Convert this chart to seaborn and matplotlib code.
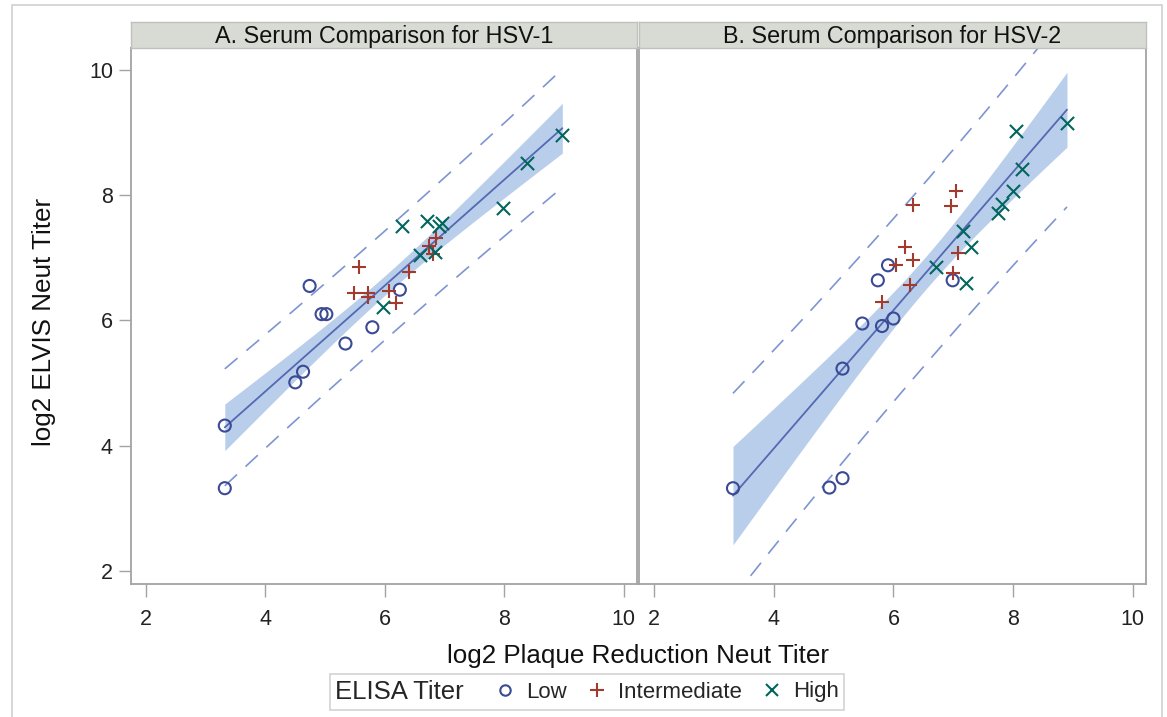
import numpy as np
import pandas as pd
import seaborn as sns
import matplotlib.pyplot as plt
from matplotlib.lines import Line2D
from matplotlib.patches import Rectangle
from matplotlib.offsetbox import HPacker

# values (log2 titers)
hsv1_low_x = [3.32, 3.32, 4.50, 4.63, 4.74, 4.94, 5.02, 5.34, 5.79, 6.25]
hsv1_low_y = [4.32, 3.32, 5.01, 5.18, 6.55, 6.10, 6.10, 5.63, 5.89, 6.49]
hsv1_int_x = [5.48, 5.57, 5.71, 5.72, 6.07, 6.18, 6.41, 6.74, 6.81, 6.85]
hsv1_int_y = [6.44, 6.85, 6.44, 6.37, 6.47, 6.28, 6.77, 7.19, 7.06, 7.32]
hsv1_high_x = [5.97, 6.28, 6.59, 6.71, 6.84, 6.90, 6.96, 7.98, 8.38, 8.97]
hsv1_high_y = [6.21, 7.51, 7.04, 7.59, 7.09, 7.50, 7.56, 7.79, 8.52, 8.96]

hsv2_low_x = [3.32, 4.93, 5.15, 5.15, 5.48, 5.74, 5.81, 5.91, 6.00, 6.99]
hsv2_low_y = [3.32, 3.33, 3.48, 5.23, 5.95, 6.64, 5.91, 6.88, 6.03, 6.64]
hsv2_int_x = [5.81, 6.05, 6.20, 6.27, 6.32, 6.32, 6.97, 7.00, 7.04, 7.08]
hsv2_int_y = [6.29, 6.89, 7.17, 6.57, 6.96, 7.84, 7.82, 6.75, 8.07, 7.08]
hsv2_high_x = [6.72, 7.16, 7.21, 7.29, 7.74, 7.82, 8.00, 8.05, 8.15, 8.90]
hsv2_high_y = [6.85, 7.43, 6.60, 7.17, 7.72, 7.86, 8.07, 9.03, 8.42, 9.16]

groups = ['Low', 'Intermediate', 'High']
panels = ['A. Serum Comparison for HSV-1', 'B. Serum Comparison for HSV-2']
ticks = [2, 4, 6, 8, 10]

rows = []
for panel, data in zip(panels, [
        [(hsv1_low_x, hsv1_low_y), (hsv1_int_x, hsv1_int_y), (hsv1_high_x, hsv1_high_y)],
        [(hsv2_low_x, hsv2_low_y), (hsv2_int_x, hsv2_int_y), (hsv2_high_x, hsv2_high_y)]]):
    for g, (xs, ys) in zip(groups, data):
        for a, b in zip(xs, ys):
            rows.append({'panel': panel, 'group': g, 'prnt': a, 'elvis': b})
df = pd.DataFrame(rows)

colors = {'Low': '#3A4A94', 'Intermediate': '#A23A2E', 'High': '#01665E'}
markers = {'Low': 'o', 'Intermediate': '+', 'High': 'x'}
fit_color = '#5468B4'
band_color = '#B9CEEA'
pred_color = '#7F95D2'
frame_color = '#A3A3A3'
T975 = 2.048  # t quantile, df = 28

sns.set_theme(style='white')
plt.rcParams['font.family'] = ['Liberation Sans', 'DejaVu Sans']

W, H = 1167, 717
fig = plt.figure(figsize=(W / 100, H / 100), dpi=100)

def box(x0, y0, x1, y1):
    return [x0 / W, 1 - y1 / H, (x1 - x0) / W, (y1 - y0) / H]

axes = [fig.add_axes(box(131, 48, 637, 584)), fig.add_axes(box(639, 48, 1146, 584))]

for i, (ax, panel) in enumerate(zip(axes, panels)):
    d = df[df.panel == panel]
    x = d.prnt.to_numpy()
    y = d.elvis.to_numpy()
    n = len(x)
    slope, icpt = np.polyfit(x, y, 1)
    s = np.sqrt(np.sum((y - (icpt + slope * x)) ** 2) / (n - 2))
    sxx = np.sum((x - x.mean()) ** 2)
    xs = np.linspace(x.min(), x.max(), 200)
    yf = icpt + slope * xs
    se_m = s * np.sqrt(1 / n + (xs - x.mean()) ** 2 / sxx)
    se_p = s * np.sqrt(1 + 1 / n + (xs - x.mean()) ** 2 / sxx)

    ax.fill_between(xs, yf - T975 * se_m, yf + T975 * se_m, color=band_color, lw=0, zorder=1)
    sns.lineplot(x=xs, y=yf, ax=ax, color=fit_color, lw=1.3, zorder=2)
    for sign in (-1, 1):
        ax.plot(xs, yf + sign * T975 * se_p, color=pred_color, lw=1.2,
                linestyle=(0, (10, 7)), zorder=2)

    for g in groups:
        dg = d[d.group == g]
        if g == 'Low':
            sns.scatterplot(data=dg, x='prnt', y='elvis', ax=ax, marker='o', s=75,
                            facecolors='none', edgecolors=colors[g], linewidths=1.5, zorder=3)
        else:
            sns.scatterplot(data=dg, x='prnt', y='elvis', ax=ax, marker=markers[g], s=90,
                            color=colors[g], linewidths=1.5, zorder=3)

    ax.set_xlim(1.75, 10.22)
    ax.set_ylim(1.79, 10.35)
    ax.set_xticks(ticks)
    ax.set_yticks(ticks)
    ax.set_xlabel('')
    ax.set_ylabel('')
    ax.tick_params(axis='x', bottom=True, length=9, width=1, color=frame_color,
                   labelsize=15.5, pad=9, labelcolor='#222222')
    if i == 0:
        ax.tick_params(axis='y', left=True, length=9, width=1, color=frame_color,
                       labelsize=15.5, pad=4, labelcolor='#222222')
    else:
        ax.tick_params(axis='y', left=False, labelleft=False)
    for sp in ax.spines.values():
        sp.set_color(frame_color)
        sp.set_linewidth(1.3)

    # header strip
    x0 = 131 if i == 0 else 639
    x1 = 637 if i == 0 else 1146
    strip = fig.add_axes(box(x0, 22, x1, 48))
    strip.set_facecolor('#D8DBD4')
    strip.set_xticks([])
    strip.set_yticks([])
    for sp in strip.spines.values():
        sp.set_color('#BFC1BC')
        sp.set_linewidth(1)
    strip.text(0.5, 0.45, panel, ha='center', va='center', fontsize=16.8,
               color='#111111', transform=strip.transAxes)

fig.text(638 / W, 1 - 656 / H, 'log2 Plaque Reduction Neut Titer', ha='center',
         va='center', fontsize=18.7, color='#111111')
fig.text(44 / W, 1 - 322 / H, 'log2 ELVIS Neut Titer', ha='center', va='center',
         rotation=90, fontsize=18.7, color='#111111')

handles = [Line2D([], [], ls='none', marker='o', ms=7.5, mfc='none', mec=colors['Low'], mew=1.5),
           Line2D([], [], ls='none', marker='+', ms=10, color=colors['Intermediate'], mew=1.5),
           Line2D([], [], ls='none', marker='x', ms=8.5, color=colors['High'], mew=1.5)]
leg = fig.legend(handles, groups, ncol=3, title='ELISA Titer', loc='center',
                 bbox_to_anchor=(587 / W, 1 - 692 / H), fontsize=16,
                 title_fontsize=18.5, frameon=True, fancybox=False, handlelength=0.9,
                 handletextpad=0.5, columnspacing=0.9, borderpad=0.25)
leg.get_frame().set_edgecolor('#C8C8C8')
leg.get_frame().set_linewidth(1.2)
# title to the left of the entries, on one row
old = leg._legend_box
new = HPacker(pad=old.pad, sep=22, align='center', children=old.get_children())
new.set_figure(fig)
new.axes = leg.axes
new.set_offset(leg._findoffset)
leg._legend_box = new

fig.patches.append(Rectangle((12 / W, -0.05), (1162 - 12) / W, 1.05 - 5 / H,
                             transform=fig.transFigure, fill=False,
                             edgecolor='#D0D0D0', lw=1.2))

fig.savefig('out.png', dpi=100)
